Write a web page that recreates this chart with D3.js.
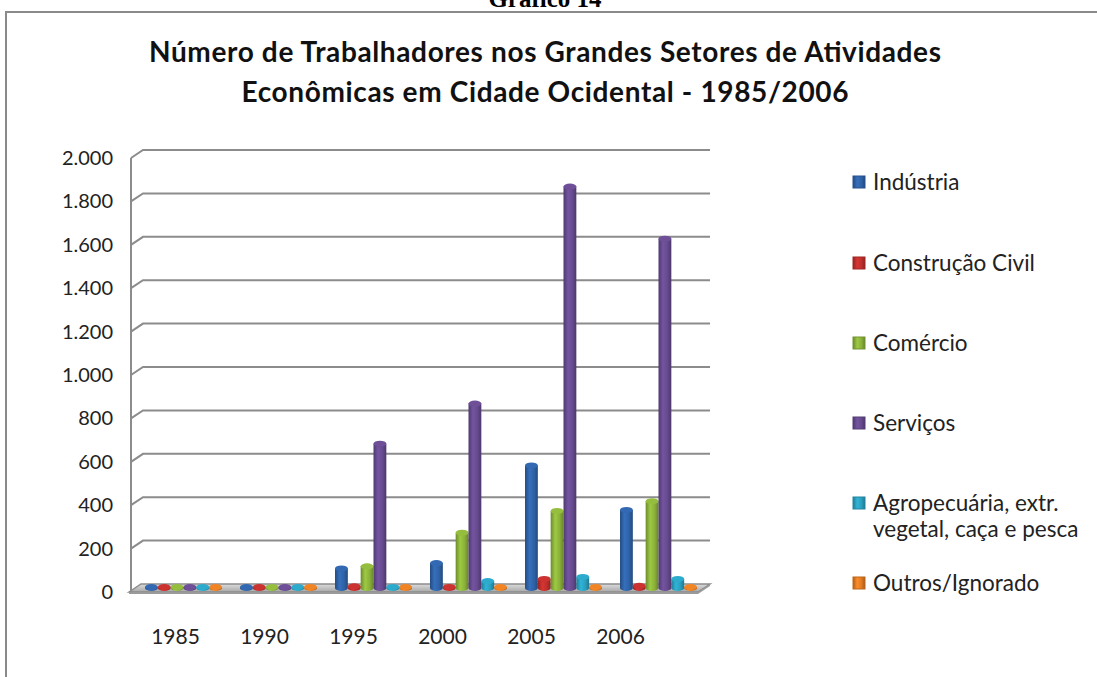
<!DOCTYPE html>
<html>
<head>
<meta charset="utf-8">
<script src="https://cdn.jsdelivr.net/npm/d3@7"></script>
<style>
  body { margin: 0; background: #fff; }
  svg { display: block; }
</style>
</head>
<body>
<script>
// anos (categorias) e setores (séries)
const years = ['1985', '1990', '1995', '2000', '2005', '2006']
const sectors = ['Indústria', 'Construção Civil', 'Comércio', 'Serviços',
                 'Agropecuária, extr. vegetal, caça e pesca', 'Outros/Ignorado']

// valores, um array por setor (ordem dos anos acima)
const industria    = [0, 0, 90, 115, 565, 360]
const construcao   = [0, 0, 8, 5, 42, 10]
const comercio     = [0, 0, 100, 255, 355, 400]
const servicos     = [0, 0, 665, 850, 1850, 1610]
const agropecuaria = [0, 0, 5, 32, 51, 42]
const outros       = [0, 0, 2, 2, 3, 3]

const yTicks = [0, 200, 400, 600, 800, 1000, 1200, 1400, 1600, 1800, 2000]

const values = [industria, construcao, comercio, servicos, agropecuaria, outros]
const colors = ['#2f62a6', '#be2f2c', '#8bb13a', '#664a8e', '#2a9fbf', '#e07b22']

const W = 1097, H = 677
const depth = {dx: 12, dy: -8}

const svg = d3.select('body').append('svg').attr('width', W).attr('height', H)
const defs = svg.append('defs')

// gradientes horizontais para dar o efeito de cilindro
colors.forEach((c, i) => {
  const g = defs.append('linearGradient').attr('id', 'cyl' + i)
    .attr('x1', 0).attr('x2', 1).attr('y1', 0).attr('y2', 0)
  const base = d3.color(c)
  g.append('stop').attr('offset', '0%').attr('stop-color', base.darker(0.7))
  g.append('stop').attr('offset', '35%').attr('stop-color', base.brighter(0.35))
  g.append('stop').attr('offset', '70%').attr('stop-color', base)
  g.append('stop').attr('offset', '100%').attr('stop-color', base.darker(0.8))
})
const floorGrad = defs.append('linearGradient').attr('id', 'floor')
  .attr('x1', 0).attr('x2', 0).attr('y1', 0).attr('y2', 1)
floorGrad.append('stop').attr('offset', '0%').attr('stop-color', '#dcdcdc')
floorGrad.append('stop').attr('offset', '100%').attr('stop-color', '#a8a8a8')

// moldura e legenda do documento
svg.append('text').attr('x', 545).attr('y', 7).attr('text-anchor', 'middle')
  .attr('font-family', 'Liberation Serif').attr('font-weight', 'bold').attr('font-size', 25)
  .text('Gráfico 14')
svg.append('path').attr('d', `M6,${H} V12 H${W}`)
  .attr('fill', 'none').attr('stroke', '#8a8a8a').attr('stroke-width', 2)

// título
const title = svg.append('text').attr('text-anchor', 'middle')
  .attr('font-family', 'Lato').attr('font-weight', 'bold').attr('font-size', 28).attr('fill', '#111')
title.append('tspan').attr('x', 545).attr('y', 62)
  .attr('textLength', 792).attr('lengthAdjust', 'spacing')
  .text('Número de Trabalhadores nos Grandes Setores de Atividades')
title.append('tspan').attr('x', 545).attr('y', 102)
  .attr('textLength', 607).attr('lengthAdjust', 'spacing')
  .text('Econômicas em Cidade Ocidental - 1985/2006')

// escalas: frente, fundo e meio da profundidade
const left = 131, right = 698
const yFront = d3.scaleLinear().domain([0, 2000]).range([592, 158])
const yBack = yFront.copy().range(yFront.range().map(v => v + depth.dy))
const yMid = yFront.copy().range(yFront.range().map(v => v + depth.dy / 2))

const xLabel = d3.scaleBand().domain(years).range([131, 665])
const xBar = d3.scaleBand().domain(years).range([136, 706])
const xSector = d3.scaleBand().domain(d3.range(sectors.length)).range([9, 86])

// parede lateral e linhas de grade
const grid = svg.append('g').attr('fill', 'none').attr('stroke', '#8c8c8c').attr('stroke-width', 2)
grid.append('line').attr('x1', left).attr('x2', left)
  .attr('y1', yFront(2000)).attr('y2', yFront(0))
grid.selectAll('.grid').data(yTicks.filter(v => v > 0)).enter()
  .append('path').attr('class', 'grid')
  .attr('d', v => `M${left},${yFront(v)} L${left + depth.dx},${yBack(v)} H${right + depth.dx}`)

// piso
svg.append('path')
  .attr('d', `M${left - 2},${yFront(0)} L${left - 2 + depth.dx},${yBack(0)} H${right + depth.dx} L${right},${yFront(0)} Z`)
  .attr('fill', 'url(#floor)').attr('stroke', '#8c8c8c').attr('stroke-width', 1.5)
svg.append('path')
  .attr('d', `M${left - 2},${yFront(0)} H${right} L${right + depth.dx},${yBack(0)} V${yBack(0) + 2} L${right},${yFront(0) + 2} H${left - 2} Z`)
  .attr('fill', '#9a9a9a')

// eixo y (rótulos na frente)
const fmt = d3.formatLocale({decimal: ',', thousands: '.', grouping: [3], currency: ['', '']}).format(',')
svg.selectAll('.ylab').data(yTicks).enter().append('text')
  .attr('x', 113).attr('y', v => yFront(v)).attr('dy', '0.35em')
  .attr('text-anchor', 'end').attr('font-family', 'Lato').attr('font-size', 20).attr('fill', '#222')
  .text(fmt)

// eixo x
svg.selectAll('.xlab').data(years).enter().append('text')
  .attr('x', d => xLabel(d) + xLabel.bandwidth() / 2).attr('y', 637).attr('dy', '0.35em')
  .attr('text-anchor', 'middle').attr('font-family', 'Lato').attr('font-size', 21).attr('fill', '#222')
  .text(d => d)

// barras cilíndricas
const bars = []
years.forEach((yr, j) => values.forEach((vals, i) => bars.push({yr, i, v: vals[j]})))

const w = xSector.bandwidth()
const ry = 3
const g = svg.selectAll('.bar').data(bars).enter().append('g')
  .attr('transform', d => `translate(${xBar(d.yr) + xSector(d.i)},0)`)

g.append('path')
  .attr('d', d => {
    const y0 = yMid(0), y1 = Math.min(yMid(d.v), y0 - 1)
    return `M0,${y1} V${y0} A${w / 2},${ry} 0 0 0 ${w},${y0} V${y1} Z`
  })
  .attr('fill', d => `url(#cyl${d.i})`)
g.append('ellipse')
  .attr('cx', w / 2).attr('cy', d => Math.min(yMid(d.v), yMid(0) - 1)).attr('rx', w / 2).attr('ry', ry)
  .attr('fill', d => d3.color(colors[d.i]).brighter(0.2))

// legenda
const legY = [182, 263, 343, 423, 503, 583]
const leg = svg.selectAll('.leg').data(sectors).enter().append('g')
  .attr('transform', (d, i) => `translate(853,${legY[i]})`)
leg.append('rect').attr('x', 0).attr('y', -6).attr('width', 12).attr('height', 12)
  .attr('fill', (d, i) => `url(#cyl${i})`).attr('stroke', (d, i) => d3.color(colors[i]).darker(0.5))
leg.append('text').attr('x', 20).attr('font-family', 'Lato').attr('font-size', 22.5).attr('fill', '#222')
  .each(function (d) {
    const lines = d === sectors[4] ? ['Agropecuária, extr.', 'vegetal, caça e pesca'] : [d]
    d3.select(this).selectAll('tspan').data(lines).enter().append('tspan')
      .attr('x', 20).attr('y', (l, k) => k * 26).attr('dy', '0.35em').text(l => l)
  })
</script>
</body>
</html>
